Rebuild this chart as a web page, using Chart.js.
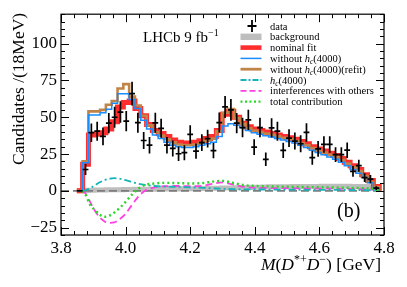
<!DOCTYPE html>
<html>
<head>
<meta charset="utf-8">
<script src="https://cdn.jsdelivr.net/npm/chart.js@4.4.1/dist/chart.umd.min.js"></script>
<style>
  html, body { margin: 0; padding: 0; background: #fff; }
</style>
</head>
<body>
<canvas id="chart" width="407" height="287"></canvas>
<script>
// M(D*+ D-) spectrum in 18 MeV bins, first bin starts at 3.849 GeV
const binLow = 3.849;
const binWidth = 0.018;

const counts = [0, 14.5, 39.5, 40.5, 37, 46, 50, 53.5, 47.3, 66,
  46.3, 34.2, 31, 46.2, 42.5, 31, 28.8, 25.2, 25.9, 38.3,
  27, 32.7, 35.5, 27.3, 46.4, 57, 55, 46, 43, 48.2,
  29.7, 43, 21.4, 42.8, 40.5, 27.5, 35.8, 33.8, 32, 39.7,
  22.5, 28.5, 31.5, 31.5, 24.6, 24.6, 27.6, 13.2, 17.1, 9,
  7.9, 1.8];
const countErrors = [0, 3.8, 6.3, 6.4, 6.1, 6.8, 7.1, 7.3, 6.9, 8.1,
  6.8, 5.8, 5.6, 6.8, 6.5, 5.6, 5.4, 5.0, 5.1, 6.2,
  5.2, 5.7, 6.0, 5.2, 6.8, 7.5, 7.4, 6.8, 6.6, 6.9,
  5.4, 6.6, 4.6, 6.5, 6.4, 5.2, 6.0, 5.8, 5.7, 6.3,
  4.7, 5.3, 5.6, 5.6, 5.0, 5.0, 5.3, 3.6, 4.1, 3.0,
  2.8, 1.3];
const background = [0, 0.2, 0.4, 0.5, 0.6, 0.7, 0.8, 0.8, 0.9, 0.9,
  1.0, 1.0, 1.1, 1.1, 1.2, 1.2, 1.3, 1.3, 1.4, 1.4,
  1.5, 1.6, 1.6, 1.7, 1.8, 1.9, 2.0, 2.1, 2.2, 2.3,
  2.4, 2.5, 2.6, 2.7, 2.7, 2.8, 2.8, 2.9, 2.9, 3.0,
  3.0, 3.0, 3.1, 3.1, 3.1, 3.1, 3.1, 3.0, 3.0, 2.9,
  2.6, 2.0];
const nominalFit = [0, 18, 38, 38.5, 39.5, 42, 47, 57, 60, 61,
  56, 51, 45, 41, 39, 37, 34.5, 33, 32.5, 32.5,
  33, 34, 35.5, 37, 41, 52, 54, 50, 46, 43.5,
  42, 41, 40, 39, 38, 37, 36, 35, 33.5, 32,
  30, 28.5, 27, 25.5, 24, 22, 19.5, 17, 14.5, 11,
  7, 3];
const withoutHc = [0, 19, 51.5, 51.5, 53, 55.5, 59.5, 66, 66, 62,
  56, 48, 42, 38, 35.5, 33, 31, 30, 29.5, 29.5,
  30, 31, 32, 33, 37, 44, 45.5, 44.5, 43, 41,
  39.5, 38.5, 37.5, 36.5, 35.5, 34.5, 33.5, 32.5, 31, 29.5,
  27.5, 26, 24.5, 23, 21.5, 19.5, 17, 14.5, 12, 9,
  5.5, 2];
const withoutHcRefit = [0, 20, 54, 54, 55, 58.5, 61, 69.5, 72.5, 64,
  58, 51, 44.5, 40, 37.5, 35, 33, 31.5, 31, 31,
  31.5, 32.5, 34, 35.5, 40.5, 53, 55.5, 49.5, 45.5, 42.5,
  41, 40, 39, 38, 37, 36, 35, 34, 32.5, 31,
  29, 27.5, 26, 24.5, 23, 21, 18.5, 16, 13.5, 10,
  6, 2.5];

// smooth component curves
const curveMass = [3.866, 3.875, 3.89, 3.905, 3.92, 3.935, 3.95, 3.965, 3.98, 4.0,
  4.02, 4.04, 4.06, 4.09, 4.12, 4.16, 4.2, 4.24, 4.27, 4.3,
  4.33, 4.37, 4.43, 4.5, 4.58, 4.66, 4.72, 4.77, 4.785];
const hcComponent = [0, 0.4, 1.8, 3.8, 5.8, 7.3, 8.2, 8.6, 8.3, 7.2,
  6.0, 4.8, 4.0, 3.3, 2.9, 2.7, 2.4, 2.0, 1.7, 1.4,
  1.2, 1.0, 0.9, 0.8, 0.7, 0.6, 0.5, 0.3, 0];
const interference = [0, -1.5, -7.5, -13.5, -18, -20.8, -21.8, -21.5, -19.5, -15.5,
  -9.5, -3.8, 0, 2.3, 3.2, 3.3, 3.2, 3.5, 4.8, 5.7,
  4.5, 2.6, 2.0, 1.8, 1.6, 1.4, 1.2, 0.8, 0];
const totalContribution = [0, -2.2, -9.5, -13, -16.2, -17.6, -16.8, -14.8, -12, -7.5,
  -2.5, 1.5, 4, 5.0, 5.4, 5.3, 5.0, 5.3, 6.3, 6.8,
  5.5, 3.8, 3.1, 2.8, 2.5, 2.2, 1.9, 1.2, 0];

const xTicks = [3.8, 4.0, 4.2, 4.4, 4.6, 4.8];
const yTicks = [-25, 0, 25, 50, 75, 100];

const serif = "'Liberation Serif', 'Times New Roman', serif";
Chart.defaults.font.family = serif;
Chart.defaults.color = '#000';

const binCenters = counts.map((_, i) => binLow + binWidth * (i + 0.5));

// histogram outline: each value is held over its own bin
function histPoints(values) {
  const pts = [{ x: binLow, y: 0 }];
  values.forEach((v, i) => pts.push({ x: binLow + binWidth * (i + 1), y: v }));
  pts.push({ x: binLow + binWidth * values.length, y: 0 });
  return pts;
}
function curvePoints(values) {
  return values.map((v, i) => ({ x: curveMass[i], y: v }));
}

const colors = {
  bkg: 'rgb(190,190,190)',
  nominal: 'rgb(255,45,45)',
  without: 'rgb(25,140,255)',
  refit: 'rgb(192,132,72)',
  hc: 'rgb(20,180,185)',
  interf: 'rgb(255,64,224)',
  total: 'rgb(40,215,40)',
  zero: 'rgb(125,125,125)'
};

// draw a run of text pieces (normal / italic / superscript / subscript)
function drawRuns(ctx, x, y, runs, size, measureOnly) {
  let cx = x;
  runs.forEach(r => {
    const s = r.size || size;
    ctx.font = (r.italic ? 'italic ' : '') + s + 'px ' + serif;
    if (!measureOnly) ctx.fillText(r.t, cx, y + (r.dy || 0));
    cx += ctx.measureText(r.t).width;
  });
  return cx - x;
}

const legendItems = [
  { kind: 'data', runs: [{ t: 'data' }] },
  { kind: 'bkg', runs: [{ t: 'background' }] },
  { kind: 'nominal', runs: [{ t: 'nominal fit' }] },
  { kind: 'without', runs: [{ t: 'without ' }, { t: 'h', italic: true }, { t: 'c', italic: true, size: 7.5, dy: 2.5 }, { t: '(4000)' }] },
  { kind: 'refit', runs: [{ t: 'without ' }, { t: 'h', italic: true }, { t: 'c', italic: true, size: 7.5, dy: 2.5 }, { t: '(4000)(refit)' }] },
  { kind: 'hc', runs: [{ t: 'h', italic: true }, { t: 'c', italic: true, size: 7.5, dy: 2.5 }, { t: '(4000)' }] },
  { kind: 'interf', runs: [{ t: 'interferences with others' }] },
  { kind: 'total', runs: [{ t: 'total contribution' }] }
];

const decorations = {
  id: 'decorations',
  afterDatasetDraw(chart, args) {
    // dashed zero line goes right above the background band
    if (chart.data.datasets[args.index].label !== 'background') return;
    const { ctx, chartArea: a, scales: { y } } = chart;
    const y0 = y.getPixelForValue(0);
    ctx.save();
    ctx.strokeStyle = colors.zero;
    ctx.lineWidth = 1.6;
    ctx.setLineDash([8, 4]);
    ctx.beginPath();
    ctx.moveTo(a.left, y0);
    ctx.lineTo(a.right, y0);
    ctx.stroke();
    ctx.restore();
  },
  afterDatasetsDraw(chart) {
    const { ctx, scales: { x, y } } = chart;
    ctx.save();
    ctx.strokeStyle = '#000';
    ctx.lineWidth = 1.7;
    counts.forEach((v, i) => {
      const px = x.getPixelForValue(binCenters[i]);
      const py = y.getPixelForValue(v);
      ctx.beginPath();
      ctx.moveTo(x.getPixelForValue(binCenters[i] - binWidth / 2), py);
      ctx.lineTo(x.getPixelForValue(binCenters[i] + binWidth / 2), py);
      if (countErrors[i] > 0) {
        ctx.moveTo(px, y.getPixelForValue(v - countErrors[i]));
        ctx.lineTo(px, y.getPixelForValue(v + countErrors[i]));
      }
      ctx.stroke();
    });
    ctx.restore();
  },
  afterDraw(chart) {
    const { ctx, chartArea: a, scales: { x, y } } = chart;
    ctx.save();
    // frame
    ctx.strokeStyle = '#000';
    ctx.lineWidth = 1.2;
    ctx.strokeRect(a.left, a.top, a.right - a.left, a.bottom - a.top);
    // inward ticks, all four sides
    ctx.lineWidth = 1;
    ctx.beginPath();
    for (let k = 0; k <= 25; k++) {
      const px = Math.round(x.getPixelForValue(3.8 + 0.04 * k)) + 0.5;
      const len = k % 5 === 0 ? 8 : 4;
      ctx.moveTo(px, a.bottom); ctx.lineTo(px, a.bottom - len);
      ctx.moveTo(px, a.top); ctx.lineTo(px, a.top + len);
    }
    for (let v = -30; v <= 120; v += 5) {
      const py = Math.round(y.getPixelForValue(v)) + 0.5;
      const len = v % 25 === 0 ? 8 : 4;
      ctx.moveTo(a.left, py); ctx.lineTo(a.left + len, py);
      ctx.moveTo(a.right, py); ctx.lineTo(a.right - len, py);
    }
    ctx.stroke();

    ctx.fillStyle = '#000';
    ctx.textBaseline = 'alphabetic';
    ctx.textAlign = 'left';

    // y title
    ctx.save();
    ctx.translate(24, 165);
    ctx.rotate(-Math.PI / 2);
    ctx.font = '17.5px ' + serif;
    ctx.fillText('Candidates /(18MeV)', 0, 0);
    ctx.restore();

    // x title, right aligned to the frame
    const xRuns = [
      { t: 'M', italic: true }, { t: '(' }, { t: 'D', italic: true },
      { t: '*+', size: 12, dy: -7 }, { t: 'D', italic: true },
      { t: '\u2212', size: 12, dy: -7 }, { t: ') [GeV]' }
    ];
    const w = drawRuns(ctx, 0, 0, xRuns, 17.5, true);
    drawRuns(ctx, 381 - w, 270, xRuns, 17.5);

    // experiment label
    drawRuns(ctx, 143, 41.5, [{ t: 'LHCb 9 fb' }, { t: '\u22121', size: 10, dy: -6 }], 15);
    // panel label
    ctx.font = '20px ' + serif;
    ctx.fillText('(b)', 337, 217);

    // legend
    const sx0 = 240.5, sx1 = 261.5, tx = 270;
    legendItems.forEach((item, i) => {
      const cy = 26 + i * 10.8;
      ctx.save();
      ctx.setLineDash([]);
      if (item.kind === 'data') {
        ctx.strokeStyle = '#000'; ctx.lineWidth = 1.8;
        ctx.beginPath();
        ctx.moveTo(247.5, cy); ctx.lineTo(256.5, cy);
        ctx.moveTo(252, cy - 6); ctx.lineTo(252, cy + 6);
        ctx.stroke();
      } else if (item.kind === 'bkg') {
        ctx.fillStyle = colors.bkg;
        ctx.fillRect(sx0, cy - 3.2, sx1 - sx0, 6.4);
      } else if (item.kind === 'nominal') {
        ctx.fillStyle = colors.nominal;
        ctx.fillRect(sx0, cy - 2.3, sx1 - sx0, 4.6);
      } else {
        const st = {
          without: [colors.without, 1.5, []],
          refit: [colors.refit, 2.8, []],
          hc: [colors.hc, 1.8, [6, 2, 2, 2]],
          interf: [colors.interf, 1.8, [6, 3]],
          total: [colors.total, 2.2, [2, 2.5]]
        }[item.kind];
        ctx.strokeStyle = st[0]; ctx.lineWidth = st[1]; ctx.setLineDash(st[2]);
        ctx.beginPath(); ctx.moveTo(sx0, cy); ctx.lineTo(sx1, cy); ctx.stroke();
      }
      ctx.restore();
      ctx.fillStyle = '#000';
      drawRuns(ctx, tx, cy + 3.5, item.runs, 10.5);
    });
    ctx.restore();
  }
};

new Chart(document.getElementById('chart'), {
  type: 'line',
  data: {
    datasets: [
      { label: 'data', data: counts.map((v, i) => ({ x: binCenters[i], y: v })),
        showLine: false, pointRadius: 0, order: 0 },
      { label: 'total contribution', data: curvePoints(totalContribution),
        borderColor: colors.total, borderWidth: 2.4, borderDash: [2, 3],
        cubicInterpolationMode: 'monotone', pointRadius: 0, order: 2 },
      { label: 'hc(4000)', data: curvePoints(hcComponent),
        borderColor: colors.hc, borderWidth: 1.8, borderDash: [7, 3, 2, 3],
        cubicInterpolationMode: 'monotone', pointRadius: 0, order: 3 },
      { label: 'interferences with others', data: curvePoints(interference),
        borderColor: colors.interf, borderWidth: 1.8, borderDash: [7, 4],
        cubicInterpolationMode: 'monotone', pointRadius: 0, order: 4 },
      { label: 'without hc(4000)', data: histPoints(withoutHc), stepped: 'after',
        borderColor: colors.without, borderWidth: 1.5, pointRadius: 0, order: 5 },
      { label: 'without hc(4000)(refit)', data: histPoints(withoutHcRefit), stepped: 'after',
        borderColor: colors.refit, borderWidth: 2.6, pointRadius: 0, order: 6 },
      { label: 'nominal fit', data: histPoints(nominalFit), stepped: 'after',
        borderColor: colors.nominal, borderWidth: 5, pointRadius: 0, order: 7 },
      { label: 'background', data: histPoints(background), stepped: 'after',
        borderColor: colors.bkg, borderWidth: 5, pointRadius: 0, order: 8 }
    ]
  },
  options: {
    responsive: false,
    devicePixelRatio: 1,
    animation: false,
    layout: { padding: { left: 0, right: 23, top: 12, bottom: 0 } },
    plugins: { legend: { display: false }, tooltip: { enabled: false } },
    scales: {
      x: {
        type: 'linear', min: 3.8, max: 4.8,
        afterBuildTicks: s => { s.ticks = xTicks.map(v => ({ value: v })); },
        afterFit: s => { s.height = 52; },
        grid: { display: false, drawTicks: false }, border: { display: false },
        ticks: { font: { size: 17 }, padding: 3, maxRotation: 0, autoSkip: false,
          callback: v => v.toFixed(1) }
      },
      y: {
        min: -30, max: 120,
        afterBuildTicks: s => { s.ticks = yTicks.map(v => ({ value: v })); },
        afterFit: s => { s.width = 61; },
        grid: { display: false, drawTicks: false }, border: { display: false },
        ticks: { font: { size: 17 }, padding: 4,
          callback: v => String(v).replace('-', '\u2212') }
      }
    }
  },
  plugins: [decorations]
});
</script>
</body>
</html>
